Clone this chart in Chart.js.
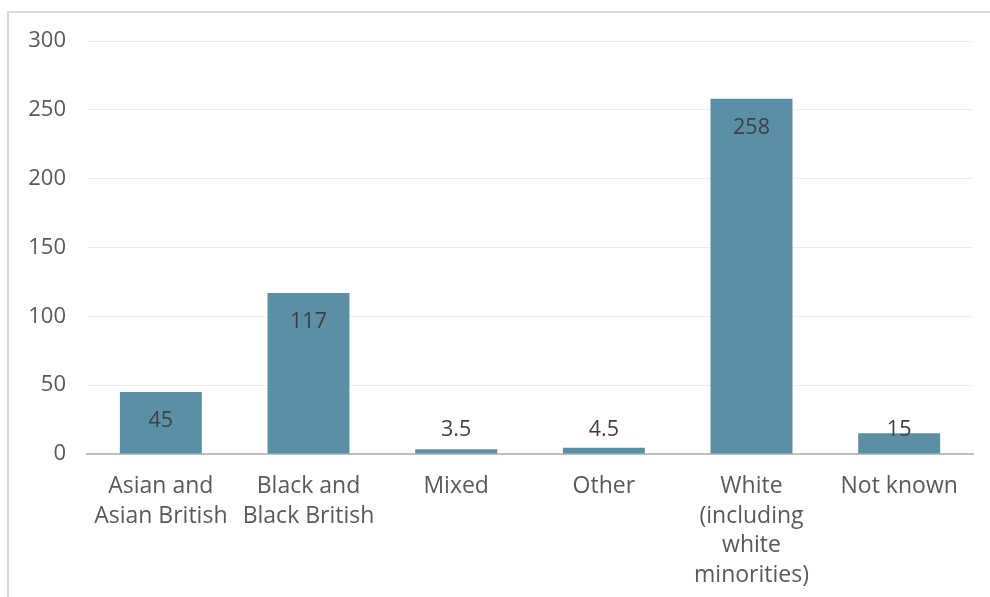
<!DOCTYPE html>
<html>
<head>
<meta charset="utf-8">
<script src="https://cdn.jsdelivr.net/npm/chart.js@4/dist/chart.umd.min.js"></script>
<style>
  html, body { margin: 0; padding: 0; width: 990px; height: 597px; overflow: hidden; background: #fff; }
  #frame { position: absolute; left: 7px; top: 11px; width: 1100px; height: 700px; border: 2px solid #d9d9d9; box-sizing: border-box; }
  #wrap { position: absolute; left: 0; top: 0; width: 990px; height: 597px; }
</style>
</head>
<body>
<div id="frame"></div>
<div id="wrap"><canvas id="c" width="990" height="597"></canvas></div>
<script>
const categories = [
  ["Asian and", "Asian British"],
  ["Black and", "Black British"],
  "Mixed",
  "Other",
  ["White", "(including", "white", "minorities)"],
  "Not known"
];
const values = [45, 117, 3.5, 4.5, 258, 15];
const valueLabels = ["45", "117", "3.5", "4.5", "258", "15"];
const yTicks = [0, 50, 100, 150, 200, 250, 300];

const FONT = "'Open Sans', 'Liberation Sans', Arial, sans-serif";

const labelPlugin = {
  id: 'barLabels',
  afterDatasetsDraw(chart) {
    const ctx = chart.ctx;
    const meta = chart.getDatasetMeta(0);
    const yScale = chart.scales.y;
    const base = yScale.getPixelForValue(0);
    ctx.save();
    ctx.font = "21.5px " + FONT;
    ctx.fillStyle = '#404040';
    ctx.textAlign = 'center';
    ctx.textBaseline = 'middle';
    meta.data.forEach((bar, i) => {
      const y = Math.min(bar.y + 29, base - 24);
      ctx.fillText(valueLabels[i], bar.x, y);
    });
    ctx.restore();
  }
};

new Chart(document.getElementById('c'), {
  type: 'bar',
  data: {
    labels: categories,
    datasets: [{
      data: values,
      backgroundColor: '#5b8fa5',
      borderWidth: 0,
      categoryPercentage: 1,
      barPercentage: 0.555
    }]
  },
  options: {
    responsive: false,
    animation: false,
    devicePixelRatio: 1,
    layout: { padding: { left: 0, right: 17, top: 41, bottom: 0 } },
    plugins: { legend: { display: false }, tooltip: { enabled: false } },
    scales: {
      x: {
        grid: { display: false, drawTicks: false },
        border: { display: true, color: '#bfbfbf', width: 2 },
        ticks: {
          color: '#595959',
          font: { family: FONT, size: 23, lineHeight: 1.28 },
          padding: 18,
          maxRotation: 0,
          autoSkip: false
        },
        afterFit(s) { s.height = 143; }
      },
      y: {
        min: 0,
        max: 300,
        afterBuildTicks(s) { s.ticks = yTicks.map(v => ({ value: v })); },
        grid: { color: '#ececec', lineWidth: 1, drawTicks: false },
        border: { display: false },
        ticks: {
          color: '#595959',
          font: { family: FONT, size: 22 },
          padding: 21
        },
        afterFit(s) { s.width = 87; }
      }
    }
  },
  plugins: [labelPlugin]
});
</script>
</body>
</html>
